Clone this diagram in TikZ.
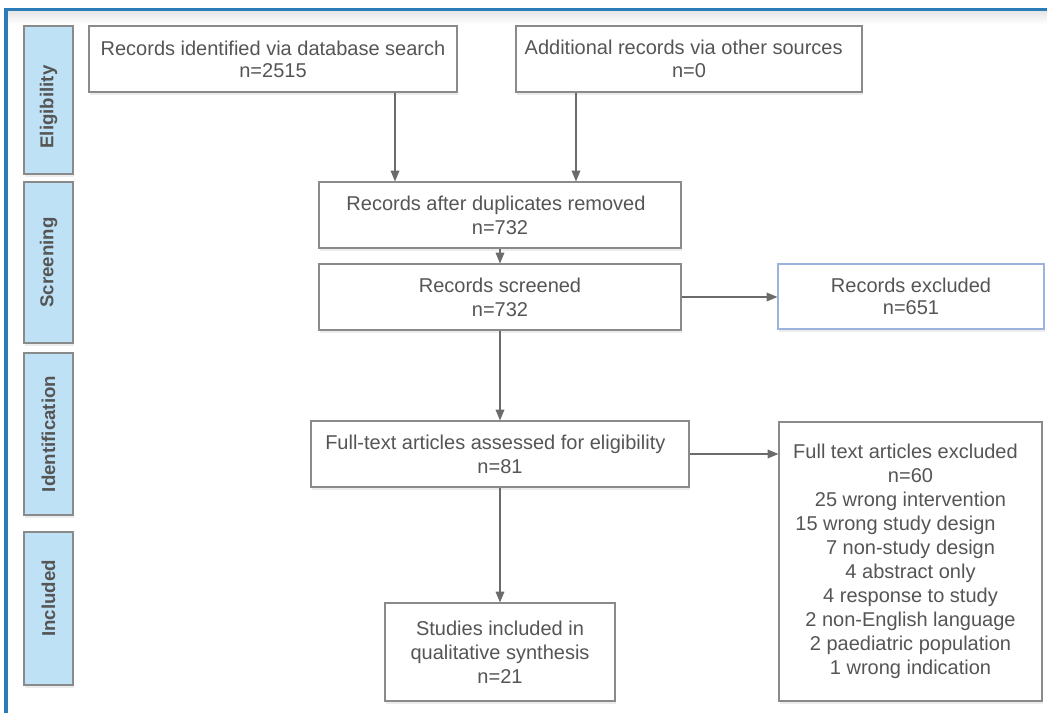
\documentclass[tikz,border=0pt]{standalone}
\usepackage{fontspec}
\setmainfont{Liberation Sans}
\usetikzlibrary{arrows.meta,shadows}
\definecolor{frameblue}{HTML}{2B7BB9}
\definecolor{boxgray}{HTML}{8A8A8A}
\definecolor{txtgray}{HTML}{555555}
\definecolor{sidefill}{HTML}{BEE1F6}
\definecolor{arrgray}{HTML}{6B6B6B}
\definecolor{exblue}{HTML}{9DB3DE}
\newcommand{\padr}[1]{\rule{#1}{0pt}}
\tikzset{
  box/.style={draw=boxgray, line width=0.9pt, fill=white, align=center, text=txtgray,
    font=\fontsize{15}{18}\selectfont, inner sep=0pt,
    drop shadow={shadow xshift=1pt, shadow yshift=-2pt, opacity=0.15}},
  side/.style={draw=boxgray, line width=0.9pt, fill=sidefill, text=txtgray,
    font=\fontsize{14}{16}\selectfont\bfseries, inner sep=0pt, rotate=90,
    minimum height=36.75pt,
    drop shadow={shadow xshift=1pt, shadow yshift=-2pt, opacity=0.15}},
  arr/.style={draw=arrgray, line width=0.8pt, -{Triangle[length=8pt,width=6.5pt]}}
}
\begin{document}
\begin{tikzpicture}[x=0.75pt,y=-0.75pt]
\useasboundingbox (0,0) rectangle (1047,713);
% frame
\shade[top color=black!10, bottom color=white] (8,11) rectangle (1047,24);
\draw[frameblue, line width=2.6pt] (6,713) -- (6,9.5) -- (1047,9.5);
% side labels
\node[side, minimum width=111pt] (s1) at (48.5,100) {Eligibility\padr{10.5pt}};
\node[side, minimum width=120.75pt] (s2) at (48.5,262.5) {Screening};
\node[side, minimum width=121.5pt] (s3) at (48.5,434) {Identification};
\node[side, minimum width=114.75pt] (s4) at (48.5,608.5) {\padr{15pt}Included};
% boxes
\node[box, minimum width=276pt, minimum height=49.5pt, font=\fontsize{15}{16.5}\selectfont] (b1) at (273,59)
  {Records identified via database search\\n=2515};
\node[box, minimum width=259.5pt, minimum height=49.5pt, font=\fontsize{15}{17}\selectfont] (b2) at (689,59)
  {Additional records via other sources\padr{8pt}\\n=0};
\node[box, minimum width=271.5pt, minimum height=49.5pt] (b3) at (500,215)
  {Records after duplicates removed\padr{6pt}\\n=732};
\node[box, minimum width=271.5pt, minimum height=49.5pt] (b4) at (500,297)
  {Records screened\\n=732};
\node[box, draw=exblue, minimum width=199.5pt, minimum height=48.75pt, font=\fontsize{15}{16}\selectfont] (b5) at (911,296.5)
  {Records excluded\\n=651};
\node[box, minimum width=283.5pt, minimum height=49.5pt] (b6) at (500,454)
  {Full-text articles assessed for eligibility\padr{7pt}\\n=81};
\node[box, minimum width=172.5pt, minimum height=73.5pt] (b7) at (500,652)
  {Studies included in\\qualitative synthesis\\n=21};
\node[box, minimum width=197.25pt, minimum height=209.25pt] (b8) at (910.5,561.5)
  {Full text articles excluded\padr{7.5pt}\\n=60\\25 wrong intervention\\15 wrong study design\padr{22.5pt}\\7 non-study design\\4 abstract only\\4 response to study\\2 non-English language\\2 paediatric population\\1 wrong indication};
% connectors
\coordinate (xa) at (395,0);
\coordinate (xb) at (576,0);
\draw[arr] (b1.south -| xa) -- (b3.north -| xa);
\draw[arr] (b2.south -| xb) -- (b3.north -| xb);
\draw[arr] (b3) -- (b4);
\draw[arr] (b4.east) -- (b4.east -| b5.west);
\draw[arr] (b4) -- (b6);
\draw[arr] (b6.east) -- (b6.east -| b8.west);
\draw[arr] (b6) -- (b7);
\end{tikzpicture}
\end{document}
